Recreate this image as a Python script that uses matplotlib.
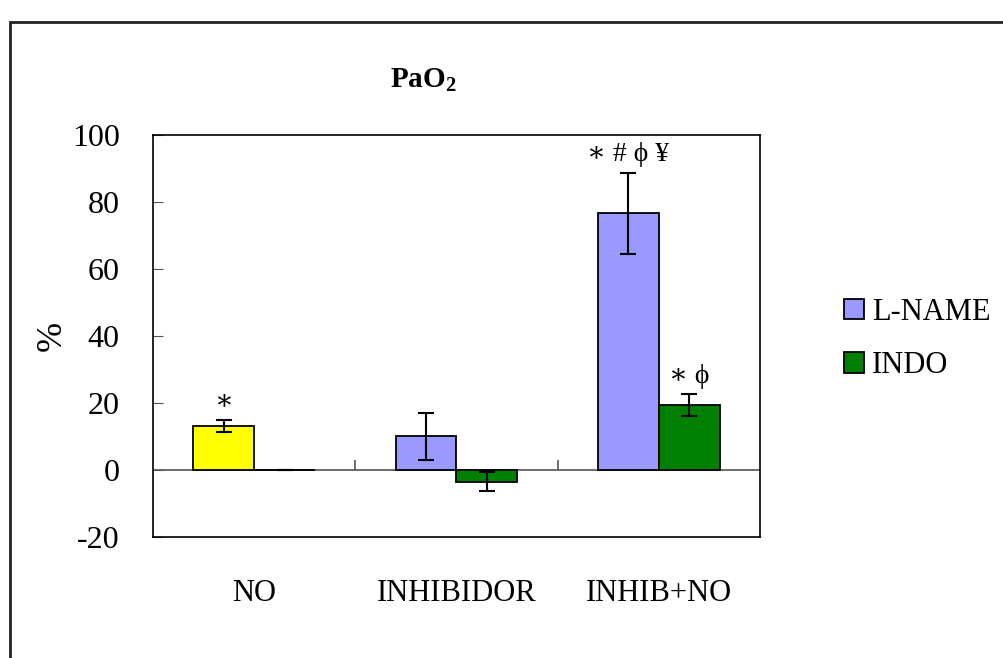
import matplotlib
matplotlib.use("Agg")
import matplotlib.pyplot as plt
from matplotlib.patches import Rectangle, Patch
import numpy as np

categories = ["NO", "INHIBIDOR", "INHIB+NO"]
lname = [13.1, 10.1, 76.7]
lname_err = [1.8, 7.0, 12.1]
indo = [0.0, -3.5, 19.4]
indo_err = [0.0, 2.8, 3.2]
lname_marks = ["∗", "", "∗ # ϕ ¥"]
indo_marks = ["", "", "∗ ϕ"]

plt.rcParams["font.family"] = ["Liberation Serif", "DejaVu Serif"]
plt.rcParams["axes.unicode_minus"] = False

fig = plt.figure(figsize=(10.04, 6.58), dpi=100)
ax = fig.add_axes([153 / 1004, 1 - 537 / 658, 607 / 1004, 402 / 658])

x = np.arange(len(categories))
w = 0.3
lname_col = "#9999FF"
indo_col = "#008000"
# the NO group's first bar is drawn yellow in the original
lname_colors = ["#FFFF00", lname_col, lname_col]
ax.bar(x - w / 2, lname, w, color=lname_colors, edgecolor="black", linewidth=1.3, zorder=2)
ax.bar(x + w / 2, indo, w, color=indo_col, edgecolor="black", linewidth=1.3, zorder=2)
ax.errorbar(x - w / 2, lname, yerr=lname_err, fmt="none", ecolor="black", elinewidth=1.5, capsize=5.5, capthick=1.5, zorder=3)
ax.errorbar(x + w / 2, indo, yerr=indo_err, fmt="none", ecolor="black", elinewidth=1.5, capsize=5.5, capthick=1.5, zorder=3)

for i in range(len(categories)):
    if lname_marks[i]:
        ax.annotate(lname_marks[i], (x[i] - w / 2, lname[i] + lname_err[i]), xytext=(0, 4),
                    textcoords="offset points", ha="center", va="bottom", fontsize=20)
    if indo_marks[i]:
        ax.annotate(indo_marks[i], (x[i] + w / 2, indo[i] + indo_err[i]), xytext=(0, 4),
                    textcoords="offset points", ha="center", va="bottom", fontsize=20)

# zero line with category separators
ax.axhline(0, color="#555555", linewidth=1.2, zorder=1)
ax.vlines([0.5, 1.5], 0, 3, color="#555555", linewidth=1.2, zorder=1)

ax.set_xlim(-0.5, 2.5)
ax.set_ylim(-20, 100)
ax.set_yticks(np.arange(-20, 101, 20))
ax.set_xticks(x)
ax.set_xticklabels(categories)
ax.tick_params(axis="x", length=0, pad=30, labelsize=22)
ax.tick_params(axis="y", direction="in", length=7, color="#555555", pad=24, labelsize=23)
for s in ax.spines.values():
    s.set_linewidth(1.2)

ax.set_ylabel("%", fontsize=26, labelpad=2)
fig.text(423 / 1004, 1 - 80 / 658, "PaO$_\\mathregular{2}$", ha="center", va="center",
         fontsize=21, fontweight="bold")

handles = [Patch(facecolor=lname_col, edgecolor="black", linewidth=1.3),
           Patch(facecolor=indo_col, edgecolor="black", linewidth=1.3)]
ax.legend(handles, ["L-NAME", "INDO"], loc="center left", bbox_to_anchor=(829 / 1004, 1 - 339 / 658),
          bbox_transform=fig.transFigure, frameon=False, fontsize=22, handlelength=0.65,
          handleheight=0.65, handletextpad=0.25, labelspacing=0.8, borderpad=0)

fig.add_artist(Rectangle((10 / 1004, -0.1), 1.2, 1 - 22 / 658 + 0.1, transform=fig.transFigure,
                         fill=False, edgecolor="#222222", linewidth=2, clip_on=False))

fig.savefig("out.png", dpi=100)
